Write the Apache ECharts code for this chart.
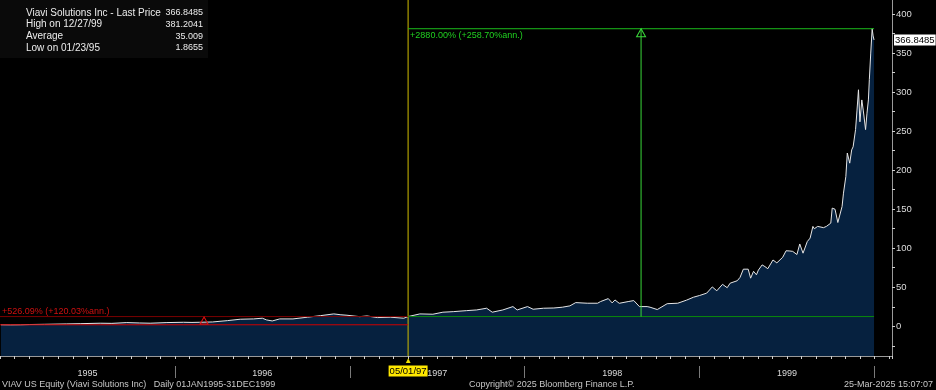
<!DOCTYPE html>
<html><head><meta charset="utf-8">
<script src="https://cdn.jsdelivr.net/npm/echarts@6/dist/echarts.min.js"></script>
<style>html,body{margin:0;padding:0;background:#000;}#c{width:936px;height:390px;}</style>
</head><body><div id="c"></div>
<script>
// ---- data ----
const dates = ['1995-01-03','1995-01-23','1995-02-12','1995-03-01','1995-04-03','1995-05-19','1995-06-16','1995-07-28','1995-08-22','1995-09-22','1995-10-19','1995-11-10','1995-12-15',
'1996-01-19','1996-02-06','1996-02-21','1996-03-19','1996-04-19','1996-05-16','1996-06-13','1996-07-01','1996-07-10','1996-07-22','1996-08-07','1996-09-04','1996-10-04','1996-11-01','1996-11-28','1996-12-13','1996-12-26',
'1997-01-22','1997-02-06','1997-02-26','1997-03-25','1997-04-22','1997-05-01','1997-05-26','1997-06-22','1997-07-13','1997-08-04','1997-09-01','1997-09-22','1997-10-13','1997-10-25','1997-11-16','1997-12-07','1997-12-16',
'1998-01-07','1998-01-19','1998-02-09','1998-03-01','1998-03-19','1998-04-04','1998-04-16','1998-05-10','1998-06-01','1998-06-07','1998-06-23','1998-07-01','1998-07-07','1998-07-16','1998-08-04','1998-08-16','1998-08-28','1998-09-13','1998-09-19','1998-10-04','1998-10-25','1998-11-16','1998-12-04','1998-12-19',
'1999-01-01','1999-01-16','1999-01-28','1999-02-06','1999-02-17','1999-02-26','1999-03-04','1999-03-19','1999-03-25','1999-04-01','1999-04-11','1999-04-16','1999-04-22','1999-04-28','1999-05-02','1999-05-10','1999-05-16','1999-05-22','1999-06-02','1999-06-10','1999-06-22','1999-06-29','1999-07-07','1999-07-13','1999-07-22','1999-07-28','1999-08-04','1999-08-13','1999-08-19','1999-08-25','1999-08-28','1999-09-04','1999-09-16','1999-09-22','1999-10-01','1999-10-04','1999-10-10','1999-10-16','1999-10-25','1999-10-28','1999-11-02','1999-11-05','1999-11-10','1999-11-14','1999-11-17','1999-11-22','1999-11-25','1999-11-28','1999-12-01','1999-12-05','1999-12-08','1999-12-13','1999-12-16','1999-12-19','1999-12-21','1999-12-24','1999-12-27','1999-12-29','1999-12-31'];
const prices = [2.0,1.87,2.0,2.3,2.6,3.1,3.4,4.0,3.8,4.8,4.3,4.0,4.8,
5.2,5.0,5.2,5.6,7.3,9.1,9.5,10.4,8.2,6.9,9.5,9.5,11.7,13.7,15.9,14.8,14.2,
12.4,13.3,11.2,11.7,10.4,12.5,15.9,15.5,18.1,18.8,20.1,21.0,23.2,18.1,21.0,25.3,21.0,
25.3,21.9,23.2,23.5,24.5,26.2,30.4,29.6,29.6,31.7,35.5,30.0,33.8,29.5,31.7,33.0,25.3,25.3,24.5,21.5,29.0,29.6,33.5,37.3,
39.5,42.5,50.5,45.5,53.8,49.5,55.3,58.4,62.7,73.2,73.2,61.7,70.5,66.0,72.0,78.7,76.5,73.8,85.0,81.3,88.4,96.8,96.5,96.0,92.0,105.5,93.7,108.6,113.0,128.0,125.0,128.0,126.4,128.0,132.2,151.4,150.0,133.0,153.5,170.6,192.0,222.0,209.0,226.0,230.0,252.0,277.0,303.0,262.0,290.0,277.0,252.0,273.0,290.0,316.0,350.0,381.2041,372.0,366.8485];
const years = ['1995','1996','1997','1998','1999'];
const legendLabels = ['Viavi Solutions Inc - Last Price','High on 12/27/99','Average','Low on 01/23/95'];
const legendValues = ['366.8485','381.2041','35.009','1.8655'];
const measureStartDate = '1997-05-01';
const measureStartLabel = '05/01/97';
const greenText = '+2880.00% (+258.70%ann.)';
const redText = '+526.09% (+120.03%ann.)';
const footerLeft = 'VIAV US Equity (Viavi Solutions Inc)   Daily 01JAN1995-31DEC1999';
const footerMid = 'Copyright\u00A9 2025 Bloomberg Finance L.P.';
const footerRight = '25-Mar-2025 15:07:07';

// ---- scale helper: date -> months since Jan 1995 ----
function toMonth(s){const p=s.split('-').map(Number);const dim=new Date(Date.UTC(p[0],p[1],0)).getUTCDate();return (p[0]-1995)*12+(p[1]-1)+(p[2]-1)/dim;}
const seriesData = dates.map((d,i)=>[toMonth(d),prices[i]]);
const mStart = toMonth(measureStartDate);
const pStart = prices[dates.indexOf(measureStartDate)];
const mEnd = seriesData[seriesData.length-1][0];
const pFirst = prices[0];
const pHigh = Math.max.apply(null,prices);
const pLast = prices[prices.length-1];
const mMid = (mStart+mEnd)/2;
const mMidRed = (0+mStart)/2;
const yearMids = years.map((y,i)=>i*12+6);
const yearEnds = years.map((y,i)=>(i+1)*12);

const FONT='Liberation Sans';
const F9='9px "'+FONT+'"';
const F10='10px "'+FONT+'"';
const txt='#dcdcdc';
const XMAX=61.2, YMIN=-38, YMAX=418;

// annotation segment drawn as its own line series through the axes
function seg(p1,p2,color,label){
  const first = label ? {value:p1,label:Object.assign({show:true,fontFamily:FONT,fontSize:9},label)} : {value:p1};
  return {type:'line',xAxisIndex:0,yAxisIndex:0,data:[first,{value:p2}],symbol:'circle',symbolSize:0,showSymbol:true,
    lineStyle:{color:color,width:1,type:'solid'},itemStyle:{color:color},label:{show:false},
    silent:true,animation:false,z:4,clip:false};
}

const chart = echarts.init(document.getElementById('c'),null,{renderer:'canvas'});
chart.setOption({
  backgroundColor:'#000',
  animation:false,
  grid:[{left:0,right:44,top:0,bottom:34,containLabel:false,outerBoundsMode:'none'},
        {left:0,right:44,top:14,bottom:44.2,containLabel:false,outerBoundsMode:'none'}],
  xAxis:[
    {type:'value',gridIndex:0,min:0,max:XMAX,interval:1,position:'bottom',
     axisLine:{show:true,onZero:false,lineStyle:{color:'#9a9a9a',width:1}},
     axisTick:{show:true,length:3,lineStyle:{color:'#cfcfcf'}},
     axisLabel:{show:true,margin:13,color:txt,fontFamily:FONT,fontSize:9,
       formatter:function(v){return (yearMids.indexOf(Math.round(v))>=0 && Math.abs(v-Math.round(v))<1e-6)?years[Math.floor(v/12)]:'';}},
     splitLine:{show:false}},
    {type:'value',gridIndex:0,min:0,max:XMAX,interval:12,position:'bottom',offset:10,
     axisLine:{show:false,onZero:false},axisTick:{show:true,length:12,customValues:yearEnds,lineStyle:{color:'#7a7a7a'}},
     axisLabel:{show:false},splitLine:{show:false}},
    {type:'value',gridIndex:0,min:0,max:XMAX,interval:1,position:'bottom',offset:0,
     axisLine:{show:false,onZero:false},axisTick:{show:false},splitLine:{show:false},
     axisLabel:{show:true,margin:1,interval:0,fontFamily:FONT,
       formatter:function(v){return Math.abs(v-mStart)<1e-6?'{t|\u25B2}\n{b|'+measureStartLabel+'}':'';},
       rich:{t:{color:'#f0e000',fontSize:8,lineHeight:8,align:'center'},
             b:{color:'#000',backgroundColor:'#ffe800',fontSize:9.5,fontFamily:FONT,padding:[1,1,0,1],lineHeight:12,align:'center'}}}},
    {type:'value',gridIndex:1,min:0,max:XMAX,show:false,axisLine:{onZero:false}}
  ],
  yAxis:[
    {type:'value',gridIndex:0,min:YMIN,max:YMAX,position:'right',
     axisLine:{show:true,onZero:false,lineStyle:{color:'#9a9a9a',width:1}},axisTick:{show:false},axisLabel:{show:false},splitLine:{show:false}},
    {type:'value',gridIndex:1,min:-25,max:400,interval:25,position:'right',
     axisLine:{show:false,onZero:false},axisTick:{show:true,length:3,lineStyle:{color:'#cfcfcf'}},
     axisLabel:{show:true,margin:4,color:txt,fontFamily:FONT,fontSize:9.5,
       formatter:function(v){return (v%50===0)?String(v):'';}},
     splitLine:{show:false}}
  ],
  series:[{
    type:'line',xAxisIndex:0,yAxisIndex:0,data:seriesData,showSymbol:false,symbol:'none',
    lineStyle:{color:'#e6e6e6',width:1},
    areaStyle:{color:'#06213f',opacity:1,origin:'start'},
    z:2,
    markLine:{silent:true,symbol:['none','none'],animation:false,
      data:[
        {yAxis:pLast,lineStyle:{color:'rgba(0,0,0,0)',width:0},label:{show:true,position:'end',distance:2,formatter:pLast.toFixed(4),color:'#000',backgroundColor:'#fff',fontFamily:FONT,fontSize:9.5,padding:[1,1,0,1]}}
      ]},
    markPoint:{silent:true,animation:false,
      data:[
        {coord:[mMid,pHigh],symbol:'triangle',symbolSize:[9,8],symbolOffset:[0,4],itemStyle:{color:'rgba(0,0,0,0)',borderColor:'#3ad83a',borderWidth:1},label:{show:false}},
        {coord:[mMidRed,pStart],symbol:'triangle',symbolSize:[8,7],symbolOffset:[0,4],itemStyle:{color:'rgba(0,0,0,0)',borderColor:'#e01010',borderWidth:1},label:{show:false}}
      ]}
  },
  seg([mStart,YMIN],[mStart,YMAX],'#d0bc00'),
  seg([0,pFirst],[mStart,pFirst],'#d00000'),
  seg([0,pStart],[mStart,pStart],'#7a0000',{position:[2,-10],formatter:redText,color:'#d01010'}),
  seg([mStart,pStart],[mEnd,pStart],'#0a8a0a'),
  seg([mStart,pHigh],[mEnd,pHigh],'#1cbc1c',{position:[2,2],formatter:greenText,color:'#20d020'}),
  seg([mMid,pStart],[mMid,pHigh],'#3ad83a')
  ],
  graphic:[
    {type:'rect',left:0,top:0,shape:{width:208,height:58},style:{fill:'#0a0a0a'},z:10},
    {type:'group',left:0,top:0,z:11,children:[
      {type:'rect',shape:{x:7.5,y:10.5,width:5,height:5},style:{fill:'none',stroke:'#8a8a8a',lineWidth:1}},
      {type:'line',shape:{x1:8,y1:13,x2:12,y2:13},style:{stroke:'#8a8a8a',lineWidth:1}},
      {type:'rect',shape:{x:15,y:9,width:8,height:8},style:{fill:'#ffffff'}},
      {type:'line',shape:{x1:10.5,y1:17,x2:10.5,y2:48},style:{stroke:'#6a6a6a',lineWidth:1,lineDash:[1,1]}},
      {type:'line',shape:{x1:10,y1:25.5,x2:14,y2:25.5},style:{stroke:'#6a6a6a',lineWidth:1,lineDash:[1,1]}},
      {type:'line',shape:{x1:10,y1:37.5,x2:13,y2:37.5},style:{stroke:'#6a6a6a',lineWidth:1,lineDash:[1,1]}},
      {type:'line',shape:{x1:10,y1:48.5,x2:14,y2:48.5},style:{stroke:'#6a6a6a',lineWidth:1,lineDash:[1,1]}},
      {type:'line',shape:{x1:16,y1:21.5,x2:22,y2:21.5},style:{stroke:'#bbbbbb',lineWidth:1}},
      {type:'line',shape:{x1:19.5,y1:21,x2:19.5,y2:29},style:{stroke:'#bbbbbb',lineWidth:1}},
      {type:'line',shape:{x1:14,y1:37.5,x2:24,y2:37.5},style:{stroke:'#bbbbbb',lineWidth:1}},
      {type:'line',shape:{x1:19.5,y1:35,x2:19.5,y2:40},style:{stroke:'#bbbbbb',lineWidth:1}},
      {type:'line',shape:{x1:16,y1:51.5,x2:22,y2:51.5},style:{stroke:'#bbbbbb',lineWidth:1}},
      {type:'line',shape:{x1:19.5,y1:44,x2:19.5,y2:52},style:{stroke:'#bbbbbb',lineWidth:1}}
    ]},
    ...legendLabels.map((s,i)=>({type:'text',left:26,top:8+i*11.6,z:12,style:{text:s,fill:'#ececec',font:F10}})),
    ...legendValues.map((s,i)=>({type:'text',right:936-203,top:8.5+i*11.6,z:12,style:{text:s,fill:'#ececec',font:F9,textAlign:'right'}})),
    {type:'text',left:2,top:380,style:{text:footerLeft,fill:'#c8c8c8',font:F9}},
    {type:'text',left:469,top:380,style:{text:footerMid,fill:'#c8c8c8',font:F9}},
    {type:'text',right:3,top:380,style:{text:footerRight,fill:'#c8c8c8',font:F9}}
  ]
});
</script></body></html>
